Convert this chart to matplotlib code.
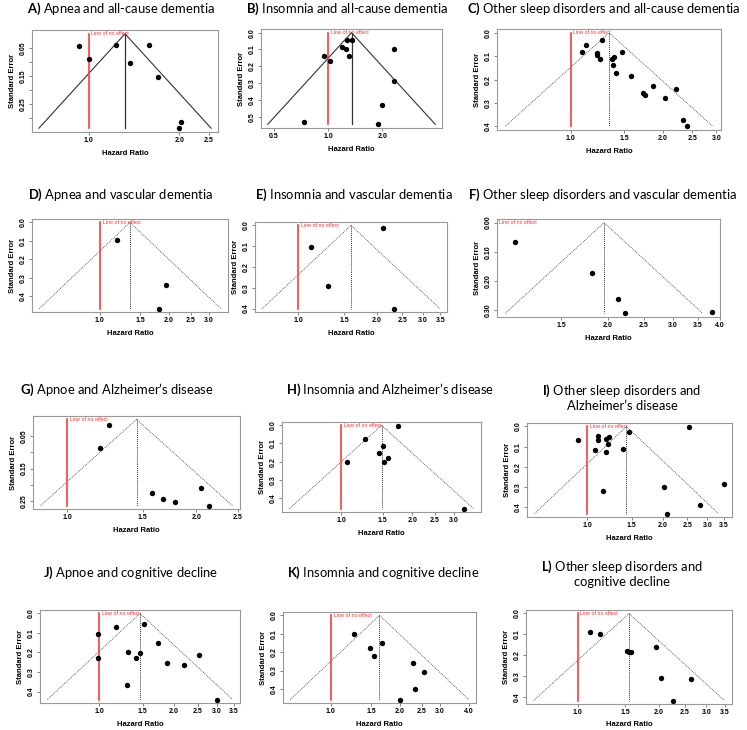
import numpy as np
import matplotlib
matplotlib.use("Agg")
import matplotlib.pyplot as plt
from matplotlib.ticker import FixedLocator, FormatStrFormatter, NullFormatter

plt.rcParams["font.family"] = ["Liberation Sans", "DejaVu Sans"]
plt.rcParams["mathtext.fontset"] = "custom"
plt.rcParams["mathtext.rm"] = "Lato"
plt.rcParams["mathtext.bf"] = "Lato:bold"

W, H = 747, 730

# ---- data (hazard ratio, standard error) ----
apnea_dem_hr = [0.93, 1.00, 1.23, 1.58, 1.37, 1.70, 2.03, 1.99]
apnea_dem_se = [0.044, 0.088, 0.041, 0.040, 0.104, 0.155, 0.314, 0.335]

insom_dem_hr = [0.74, 1.90, 2.00, 2.33, 2.33, 0.95, 1.02, 1.19, 1.26, 1.28, 1.35, 1.31]
insom_dem_se = [0.53, 0.545, 0.43, 0.285, 0.10, 0.14, 0.167, 0.085, 0.10, 0.042, 0.044, 0.14]

other_dem_hr = [1.27, 1.12, 1.09, 1.22, 1.22, 1.25, 1.37, 1.39, 1.47, 1.38,
                1.41, 1.57, 1.72, 1.75, 1.86, 2.03, 2.21, 2.33, 2.41]
other_dem_se = [0.029, 0.053, 0.083, 0.087, 0.094, 0.11, 0.11, 0.105, 0.084, 0.138,
                0.173, 0.186, 0.257, 0.266, 0.228, 0.28, 0.242, 0.371, 0.399]

apnea_vasc_hr = [1.19, 1.95, 1.82]
apnea_vasc_se = [0.095, 0.34, 0.467]

insom_vasc_hr = [1.12, 1.30, 2.10, 2.32]
insom_vasc_se = [0.103, 0.29, 0.015, 0.40]

other_vasc_hr = [1.13, 1.81, 2.13, 2.23, 3.81]
other_vasc_se = [0.066, 0.173, 0.261, 0.312, 0.307]

apnea_ad_hr = [1.25, 1.19, 1.58, 1.67, 1.78, 2.05, 2.14]
apnea_ad_se = [0.016, 0.086, 0.226, 0.244, 0.253, 0.21, 0.263]

insom_ad_hr = [1.74, 1.26, 1.50, 1.45, 1.58, 1.51, 1.06, 3.31]
insom_ad_se = [0.004, 0.077, 0.116, 0.152, 0.182, 0.202, 0.204, 0.46]

other_ad_hr = [0.92, 1.105, 1.10, 1.07, 1.19, 1.22, 1.21, 1.18, 1.38, 1.46,
               1.15, 2.53, 2.01, 2.07, 2.81, 3.51]
other_ad_se = [0.068, 0.045, 0.068, 0.118, 0.062, 0.053, 0.089, 0.125, 0.113, 0.029,
               0.32, 0.005, 0.30, 0.43, 0.39, 0.285]

apnea_cog_hr = [0.99, 0.99, 1.17, 1.51, 1.30, 1.46, 1.41, 1.29, 1.72, 1.88, 2.20, 2.54, 3.00]
apnea_cog_se = [0.106, 0.226, 0.068, 0.055, 0.20, 0.205, 0.229, 0.368, 0.15, 0.256, 0.265, 0.215, 0.441]

insom_cog_hr = [1.26, 1.48, 1.54, 1.67, 2.28, 2.56, 2.33, 2.00]
insom_cog_se = [0.103, 0.18, 0.223, 0.151, 0.26, 0.31, 0.40, 0.458]

other_cog_hr = [1.115, 1.21, 1.53, 1.55, 1.58, 1.95, 2.04, 2.63, 2.26]
other_cog_se = [0.09, 0.10, 0.18, 0.183, 0.183, 0.16, 0.307, 0.312, 0.415]

# pooled hazard ratio (funnel apex) per panel
pooled_hr = [1.32, 1.35, 1.335, 1.355, 1.59, 1.955, 1.45, 1.48, 1.43, 1.46, 1.63, 1.55]

titles = [
    r"$\mathbf{A)}$ Apnea and all-cause dementia",
    r"$\mathbf{B)}$ Insomnia and all-cause dementia",
    r"$\mathbf{C)}$ Other sleep disorders and all-cause dementia",
    r"$\mathbf{D)}$ Apnea and vascular dementia",
    r"$\mathbf{E)}$ Insomnia and vascular dementia",
    r"$\mathbf{F)}$ Other sleep disorders and vascular dementia",
    r"$\mathbf{G)}$ Apnoe and Alzheimer’s disease",
    r"$\mathbf{H)}$ Insomnia and Alzheimer’s disease",
    r"$\mathbf{I)}$ Other sleep disorders and" + "\nAlzheimer’s disease",
    r"$\mathbf{J)}$ Apnoe and cognitive decline",
    r"$\mathbf{K)}$ Insomnia and cognitive decline",
    r"$\mathbf{L)}$ Other sleep disorders and" + "\ncognitive decline",
]

hr_sets = [apnea_dem_hr, insom_dem_hr, other_dem_hr, apnea_vasc_hr, insom_vasc_hr, other_vasc_hr,
           apnea_ad_hr, insom_ad_hr, other_ad_hr, apnea_cog_hr, insom_cog_hr, other_cog_hr]
se_sets = [apnea_dem_se, insom_dem_se, other_dem_se, apnea_vasc_se, insom_vasc_se, other_vasc_se,
           apnea_ad_se, insom_ad_se, other_ad_se, apnea_cog_se, insom_cog_se, other_cog_se]

x_ticks = [
    [1.0, 2.0, 2.5], [0.5, 1.0, 2.0], [1.0, 1.5, 2.0, 2.5, 3.0],
    [1.0, 1.5, 2.0, 2.5, 3.0], [1.0, 1.5, 2.0, 2.5, 3.0, 3.5], [1.5, 2.0, 2.5, 3.0, 3.5, 4.0],
    [1.0, 1.5, 2.0, 2.5], [1.0, 1.5, 2.0, 2.5, 3.0, 4.0], [1.0, 1.5, 2.0, 2.5, 3.0, 3.5],
    [1.0, 1.5, 2.0, 2.5, 3.0, 3.5], [1.0, 1.5, 2.0, 2.5, 3.0, 4.0], [1.0, 1.5, 2.0, 2.5, 3.0, 3.5],
]
y_ticks = [
    [0.05, 0.15, 0.25, 0.35], [0.0, 0.1, 0.2, 0.3, 0.4, 0.5], [0.0, 0.1, 0.2, 0.3, 0.4],
    [0.0, 0.1, 0.2, 0.3, 0.4], [0.0, 0.1, 0.2, 0.3, 0.4], [0.0, 0.1, 0.2, 0.3],
    [0.05, 0.15, 0.25], [0.0, 0.1, 0.2, 0.3, 0.4], [0.0, 0.1, 0.2, 0.3, 0.4],
    [0.0, 0.1, 0.2, 0.3, 0.4], [0.0, 0.1, 0.2, 0.3, 0.4], [0.0, 0.1, 0.2, 0.3, 0.4],
]
y_fmt = ["%.2f", "%.1f", "%.1f", "%.1f", "%.1f", "%.2f", "%.2f", "%.1f", "%.1f", "%.1f", "%.1f", "%.1f"]

# panel boxes in pixels: left, top, right, bottom
boxes = [
    (32, 30, 218, 132), (261, 29, 442, 128), (497, 29, 721, 130),
    (32, 219, 228, 312), (255, 222, 447, 312), (497, 219, 720, 317),
    (33, 416, 240, 509), (282, 422, 481, 512), (527, 423, 732, 517),
    (40, 610, 240, 703), (283, 612, 476, 703), (526, 610, 732, 704),
]
title_pos = [
    (121, 9), (347, 9), (604, 9),
    (121, 195), (354, 195), (603, 195),
    (117, 390), (390, 390), (622, 397),
    (131, 573), (383, 573), (622, 573),
]
solid_funnel = [True, True] + [False] * 10

fig = plt.figure(figsize=(W / 100, H / 100), dpi=100)

for i in range(12):
    l, t, r, b = boxes[i]
    ax = fig.add_axes([l / W, 1 - b / H, (r - l) / W, (b - t) / H])
    hr = np.array(hr_sets[i])
    se = np.array(se_sets[i])
    lnp = np.log(pooled_hr[i])
    sem = se.max()

    # funnel and centre line
    fx = np.exp([lnp - 1.96 * sem, lnp, lnp + 1.96 * sem])
    fy = [sem, 0, sem]
    if solid_funnel[i]:
        ax.plot(fx, fy, color="#333333", lw=0.8, zorder=2)
        ax.plot([pooled_hr[i]] * 2, [0, sem], color="#333333", lw=0.9, zorder=2)
    else:
        ax.plot(fx, fy, color="#333333", lw=0.6, ls=(0, (1, 1.3)), zorder=2)
        ax.plot([pooled_hr[i]] * 2, [0, sem], color="#333333", lw=0.7, ls=(0, (1, 1.0)), zorder=2)

    # line of no effect
    ax.plot([1.0, 1.0], [0, sem], color="#ff3b3b", lw=1.2, zorder=2)
    ax.annotate("Line of no effect", xy=(1.0, 0), xytext=(2, 0), textcoords="offset points",
                ha="left", va="center", color="#ff3030", fontsize=3.8,
                annotation_clip=False, clip_on=True)

    ax.scatter(hr, se, s=15, color="black", zorder=3, linewidths=0)

    ax.set_xscale("log")
    lo = min(lnp - 1.96 * sem, np.log(hr).min())
    hi = max(lnp + 1.96 * sem, np.log(hr).max())
    pad = 0.04 * (hi - lo)
    ax.set_xlim(np.exp(lo - pad), np.exp(hi + pad))
    ax.set_ylim(sem * 1.04, -sem * 0.04)

    ax.xaxis.set_major_locator(FixedLocator(x_ticks[i]))
    ax.xaxis.set_major_formatter(FormatStrFormatter("%.1f"))
    ax.xaxis.set_minor_locator(FixedLocator([]))
    ax.xaxis.set_minor_formatter(NullFormatter())
    ax.yaxis.set_major_locator(FixedLocator(y_ticks[i]))
    ax.yaxis.set_major_formatter(FormatStrFormatter(y_fmt[i]))
    if y_fmt[i] == "%.2f" and y_ticks[i][0] == 0.05:
        ax.yaxis.set_minor_locator(FixedLocator([0.1, 0.2, 0.3]))
        ax.tick_params(axis="y", which="minor", length=2, width=0.5, color="#555555")

    ax.tick_params(axis="both", which="major", labelsize=5, length=2, width=0.5,
                   pad=1.5, color="#555555")
    for lab in ax.get_xticklabels() + ax.get_yticklabels():
        lab.set_fontweight("bold")
    for lab in ax.get_yticklabels():
        lab.set_rotation(90)
        lab.set_va("center")

    for sp in ax.spines.values():
        sp.set_color("#999999")
        sp.set_linewidth(0.8)

    ax.set_xlabel("Hazard Ratio", fontsize=5.5, fontweight="bold", labelpad=4.5 if i < 11 else 3.5)
    ax.set_ylabel("Standard Error", fontsize=5.5, fontweight="bold", labelpad=3)

    tx, ty = title_pos[i]
    fig.text(tx / W, 1 - ty / H, titles[i], ha="center", va="center",
             fontsize=9.4, family="Lato", linespacing=1.1)

fig.savefig("out.png", dpi=100)
